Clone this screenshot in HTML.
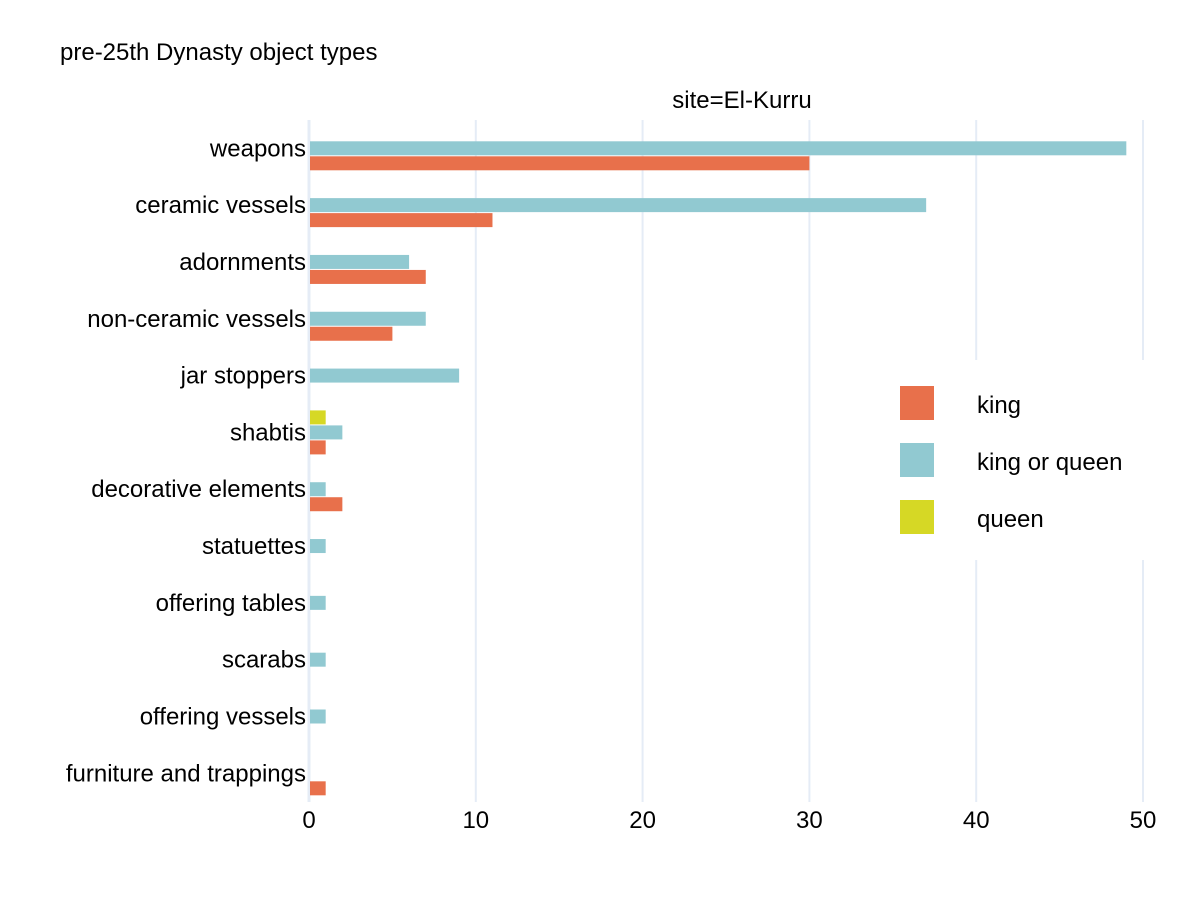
<!DOCTYPE html>
<html><head><meta charset="utf-8"><style>
body{margin:0;background:#fff;font-family:"Liberation Sans",Arial,sans-serif}
svg text{font-family:"Liberation Sans",Arial,sans-serif;fill:#000}
</style></head><body>
<svg id="chart" width="1200" height="900">
<text x="60" y="60" font-size="24">pre-25th Dynasty object types</text>
<text x="742" y="108" font-size="24" text-anchor="middle">site=El-Kurru</text>
<g id="grid"></g><g id="bars"></g><g id="ylabels"></g><g id="xlabels"></g>
<g id="legend">
<rect x="880" y="360" width="270" height="200" fill="#fff"/>
</g>
</svg>
<script>
const categories=["weapons","ceramic vessels","adornments","non-ceramic vessels","jar stoppers","shabtis","decorative elements","statuettes","offering tables","scarabs","offering vessels","furniture and trappings"];
const queenVals=[0,0,0,0,0,1,0,0,0,0,0,0];
const kingOrQueenVals=[49,37,6,7,9,2,1,1,1,1,1,0];
const kingVals=[30,11,7,5,0,1,2,0,0,0,0,1];
const xTicks=[0,10,20,30,40,50];
const seriesNames=["king","king or queen","queen"];
const colors={"king":"#e8704b","king or queen":"#91c9d1","queen":"#d6d825"};
const NS="http://www.w3.org/2000/svg";
const x0=309,x1=1143,xmax=50;
const X=v=>x0+(x1-x0)*v/xmax;
const Y=i=>148.3+i*56.82;
function mk(t,a,p){const e=document.createElementNS(NS,t);for(const k in a)e.setAttribute(k,a[k]);document.getElementById(p).appendChild(e);return e;}
xTicks.forEach(t=>{
 const l=mk("line",{x1:X(t),x2:X(t),y1:120,y2:802,stroke:"#e5ecf6","stroke-width":t===0?3:2},"grid");
 
 
 const tx=mk("text",{x:X(t),y:828,"font-size":24,"text-anchor":"middle"},"xlabels");tx.textContent=t;
 
 
});
const series=[["queen",queenVals,-15],["king or queen",kingOrQueenVals,0],["king",kingVals,15]];
categories.forEach((c,i)=>{
 const t=mk("text",{x:306,y:Y(i)+8,"font-size":24,"text-anchor":"end"},"ylabels");t.textContent=c;
 
 
 series.forEach(([n,vals,off])=>{
  if(!vals[i])return;
  const r=mk("rect",{x:X(0)+1,y:Y(i)+off-7,width:X(vals[i])-X(0)-1,height:14,fill:colors[n]},"bars");
  
  
 });
});
seriesNames.forEach((n,i)=>{
 const r=mk("rect",{x:900,y:386+i*57,width:34,height:34,fill:colors[n]},"legend");
 
 
 const t=mk("text",{x:977,y:413+i*57,"font-size":24},"legend");t.textContent=n;
 
 
});
</script>
</body></html>
